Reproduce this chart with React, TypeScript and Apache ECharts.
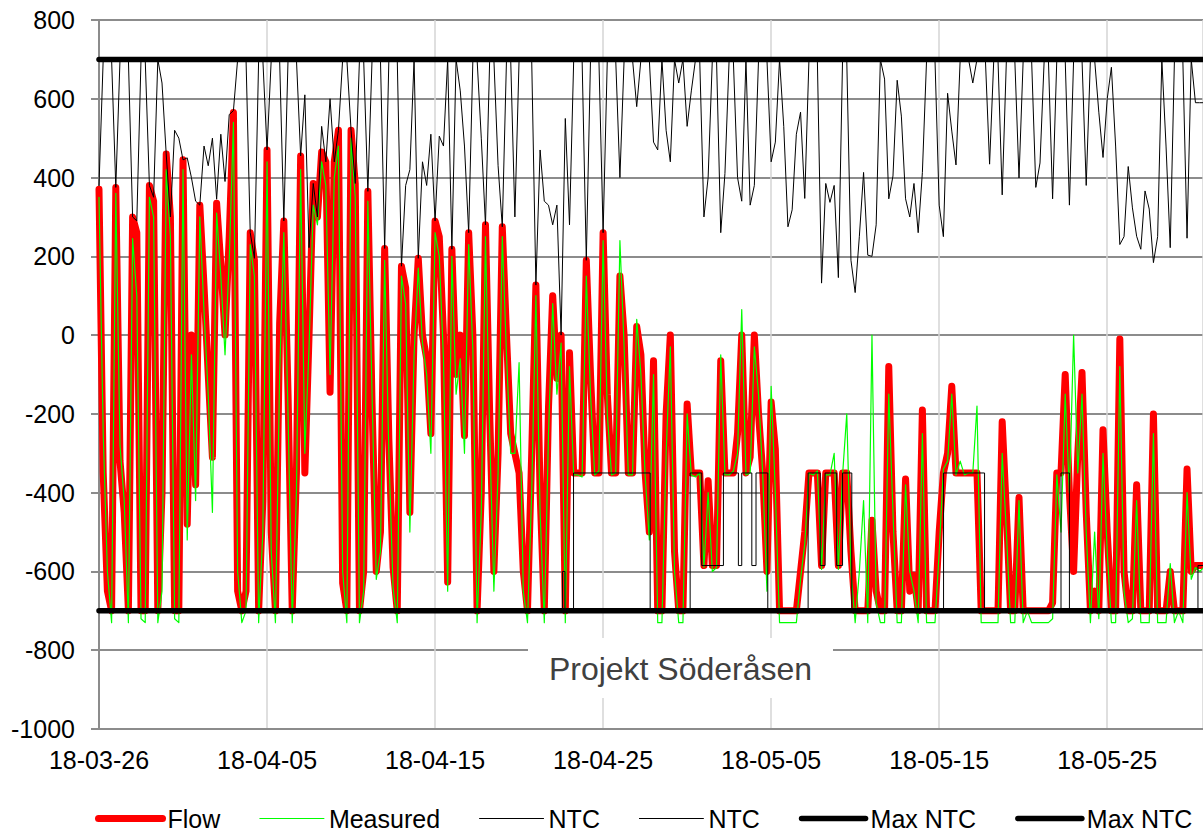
import React, { useEffect, useRef } from 'react';
import * as echarts from 'echarts';

// x values are day offsets from 2018-03-26 00:00, sampled every 6 hours
const SAMPLES_PER_DAY = 4;
const tickLabels = ['18-03-26', '18-04-05', '18-04-15', '18-04-25', '18-05-05', '18-05-15', '18-05-25'];
const seriesNames = ['Flow', 'Measured', 'NTC', 'NTC_2', 'Max NTC', 'Max NTC_2'];

const flow = [
  370, -350, -650, -700, 375, -320, -450, -700, 300, 260, -700, -700, 380, 340, -700, -400,
  460, 300, -700, -700, 445, -480, 0, -380, 330, 125, -100, -310, 335, 180, 0, 250,
  565, -650, -700, -650, 260, 190, -700, -420, 470, -500, -700, 30, 290, -150, -700, -350,
  455, -350, 0, 385, 300, 465, 440, -145, 440, 520, -630, -700, 520, 385, -700, -600,
  365, -175, -600, -500, 220, -265, -590, -700, 175, 120, -450, 0, 195, 0, -60, -250,
  290, 250, 0, -627, 218, -100, 0, -255, 260, 0, -700, -400, 280, -200, -600, -300,
  275, 0, -250, -300, -350, -600, -700, -300, 127, -400, -700, -183, 100, -110, 0, -700,
  -45, -350, -350, -350, 190, -100, -350, -350, 260, -150, -350, -350, 150, 0, -350, -350,
  22, -50, -350, -500, -65, -700, -700, -200, 0, -550, -700, -700, -175, -350, -350, -350,
  -585, -370, -585, -585, -65, -350, -350, -350, -250, 0, -350, -310, 0, -200, -350, -600,
  -170, -290, -700, -700, -700, -700, -700, -600, -500, -350, -350, -350, -585, -350, -350, -350,
  -585, -350, -350, -550, -700, -700, -700, -700, -470, -650, -700, -700, -80, -500, -700, -700,
  -365, -650, -610, -700, -190, -700, -700, -700, -500, -350, -300, -130, -350, -350, -350, -350,
  -350, -350, -700, -700, -700, -700, -700, -220, -450, -700, -700, -412, -700, -700, -700, -700,
  -700, -700, -700, -680, -350, -350, -100, -400, -600, -300, -95, -450, -700, -650, -700, -240,
  -500, -700, -700, -10, -600, -700, -700, -380, -700, -700, -700, -200, -700, -700, -700, -600,
  -700, -700, -700, -340, -600, -585, -585, -585,
];

const measured = [
  350, -250, -600, -730, 360, -280, -420, -730, 245, 100, -720, -730, 350, 300, -730, -650,
  420, 250, -720, -730, 420, -520, -50, -420, 300, 60, -150, -450, 310, 150, -50, 190,
  540, -600, -730, -700, 230, 150, -730, -500, 440, -550, -730, -100, 260, -200, -730, -400,
  420, -300, -30, 330, 280, 440, 380, -100, 400, 480, -600, -730, 500, 350, -730, -650,
  340, -150, -620, -550, 190, -300, -640, -730, 150, 80, -500, -50, 170, -20, -100, -300,
  260, 200, -60, -650, 200, -150, -60, -300, 230, -40, -730, -450, 250, -250, -650, -350,
  250, -50, -300, -300, -70, -650, -730, -400, 100, -450, -730, -250, 80, -150, -20, -730,
  -80, -355, -355, -360, 150, -150, -355, -345, 240, -200, -355, -350, 240, -30, -355, -355,
  40, -100, -355, -520, -100, -730, -730, -300, -30, -600, -730, -730, -200, -355, -360, -350,
  -590, -400, -600, -590, -50, -355, -355, -345, -300, 65, -355, -350, -30, -150, -355, -650,
  -130, -400, -730, -730, -730, -730, -730, -620, -530, -350, -355, -345, -595, -355, -355, -300,
  -595, -355, -200, -600, -730, -600, -420, -730, 0, -680, -730, -730, -150, -450, -730, -730,
  -380, -600, -650, -730, -250, -730, -730, -730, -550, -340, -320, -150, -355, -320, -355, -350,
  -350, -180, -730, -730, -730, -730, -730, -300, -500, -730, -730, -420, -730, -700, -730, -730,
  -730, -730, -730, -720, -355, -500, -150, -400, 0, -350, -150, -500, -730, -500, -720, -300,
  -550, -730, -730, -80, -650, -730, -720, -420, -730, -730, -730, -250, -730, -730, -730, -580,
  -730, -700, -730, -400, -620, -590, -600, -590,
];

const ntcUpper = [
  380, 700, 700, 700, 375, 700, 700, 700, 300, 290, 700, 700, 380, 350, 700, 640,
  460, 300, 520, 500, 445, 450, 400, 340, 330, 480, 430, 500, 345, 510, 390, 560,
  570, 700, 700, 700, 260, 195, 700, 700, 470, 700, 700, 700, 290, 700, 700, 700,
  455, 610, 222, 385, 300, 530, 440, 600, 440, 520, 700, 700, 520, 385, 700, 700,
  365, 700, 700, 700, 220, 700, 700, 700, 175, 380, 420, 700, 195, 440, 380, 510,
  290, 505, 480, 700, 218, 700, 620, 480, 260, 700, 700, 500, 280, 700, 700, 430,
  275, 700, 700, 300, 700, 700, 700, 700, 127, 470, 340, 330, 280, 330, 0, 550,
  280, 700, 700, 700, 190, 700, 700, 700, 260, 700, 700, 700, 400, 700, 700, 700,
  580, 700, 700, 700, 490, 470, 700, 520, 440, 700, 640, 700, 530, 620, 700, 700,
  300, 400, 700, 700, 260, 410, 700, 700, 400, 340, 700, 330, 380, 700, 700, 700,
  440, 490, 700, 530, 275, 318, 510, 566, 347, 700, 700, 700, 132, 385, 337, 380,
  146, 700, 700, 190, 108, 251, 413, 203, 200, 280, 700, 650, 346, 404, 647, 556,
  346, 300, 385, 260, 413, 700, 700, 700, 330, 250, 614, 518, 432, 700, 700, 700,
  640, 700, 700, 700, 434, 700, 700, 356, 700, 700, 700, 399, 700, 700, 700, 375,
  437, 700, 700, 346, 700, 700, 700, 330, 700, 700, 700, 380, 700, 700, 566, 451,
  600, 680, 480, 230, 250, 428, 323, 251, 218, 366, 320, 184, 250, 700, 480, 222,
  700, 700, 700, 246, 700, 590, 590, 590,
];

// lower NTC is a step line: value holds from each change day until the next
const ntcLowerDays = [0, 27.58, 27.73, 28.24, 32.8, 35.18, 35.87, 37.16, 38.05, 38.25, 38.85, 39.1, 39.8,
  42.2, 42.92, 43.21, 43.9, 44.25, 44.8, 50.26, 52.7, 57.25, 57.75, 65.4, 66];
const ntcLowerVals = [-700, -600, -700, -350, -700, -350, -585, -350, -585, -350, -585, -350, -700,
  -350, -585, -350, -585, -350, -700, -350, -700, -350, -700, -585, -585];

const maxNtcDays = [0, 66];
const maxNtcPos = [700, 700];
const maxNtcNeg = [-700, -700];

const FONT = '"Liberation Sans", Arial, Helvetica, sans-serif';

const sampled = (vals: number[]) => vals.map((v, i) => [i / SAMPLES_PER_DAY, v]);
const paired = (days: number[], vals: number[]) => days.map((d, i) => [d, vals[i]]);

export default function App() {
  const ref = useRef<HTMLDivElement>(null);

  useEffect(() => {
    if (!ref.current) return;
    const chart = echarts.init(ref.current, undefined, { renderer: 'svg' });
    const line = (name: string, data: number[][], color: string, width: number, extra: any = {}) => ({
      name,
      type: 'line',
      data,
      symbol: 'none',
      showSymbol: false,
      lineStyle: { color, width, cap: 'round', join: 'round' },
      itemStyle: { color },
      emphasis: { disabled: true },
      ...extra,
    });
    chart.setOption({
      animation: false,
      backgroundColor: '#ffffff',
      grid: { left: 99, right: 0, top: 20, bottom: 102, containLabel: false },
      xAxis: {
        type: 'value',
        min: 0,
        max: 65.7,
        interval: 10,
        axisLine: { show: true, onZero: false, lineStyle: { color: '#8c8c8c', width: 2 } },
        axisTick: { show: false },
        axisLabel: {
          color: '#000',
          fontSize: 25,
          fontFamily: FONT,
          margin: 18,
          showMaxLabel: false,
          formatter: (v: number) => {
            const i = Math.round(v / 10);
            return Math.abs(v - i * 10) < 1e-6 && tickLabels[i] ? tickLabels[i] : '';
          },
        },
        splitLine: { show: true, lineStyle: { color: '#d4d4d4', width: 1.5 } },
      },
      yAxis: {
        type: 'value',
        min: -1000,
        max: 800,
        interval: 200,
        axisLine: { show: true, lineStyle: { color: '#8c8c8c', width: 2 } },
        axisTick: { show: true, inside: false, length: 8, lineStyle: { color: '#8c8c8c', width: 2 } },
        axisLabel: {
          color: '#000',
          fontSize: 25,
          fontFamily: FONT,
          margin: 24,
          formatter: (v: number) => String(v),
        },
        splitLine: { show: true, lineStyle: { color: '#8c8c8c', width: 2 } },
      },
      legend: {
        left: 95,
        top: 806,
        width: 1150,
        padding: 0,
        itemGap: 39,
        itemWidth: 64,
        itemHeight: 24,
        selectedMode: false,
        textStyle: { color: '#000', fontSize: 25, fontFamily: FONT },
        itemStyle: { color: 'rgba(0,0,0,0)', borderColor: 'rgba(0,0,0,0)', borderWidth: 0 },
        lineStyle: { width: 'inherit' },
        formatter: (n: string) => n.replace(/_2$/, ''),
        data: seriesNames,
      },
      graphic: [
        {
          type: 'rect',
          z: 50,
          shape: { x: 528, y: 638, width: 305, height: 60 },
          style: { fill: '#ffffff' },
        },
        {
          type: 'text',
          z: 51,
          x: 680.5,
          y: 669,
          style: {
            text: 'Projekt Söderåsen',
            fontSize: 32,
            fontFamily: FONT,
            fill: '#404040',
            align: 'center',
            verticalAlign: 'middle',
          },
        },
      ],
      series: [
        line(seriesNames[0], sampled(flow), '#ff0000', 7),
        line(seriesNames[1], sampled(measured), '#00ff00', 1.2),
        line(seriesNames[2], sampled(ntcUpper), '#000000', 1),
        line(seriesNames[3], paired(ntcLowerDays, ntcLowerVals), '#000000', 1, { step: 'end' }),
        line(seriesNames[4], paired(maxNtcDays, maxNtcPos), '#000000', 5.5),
        line(seriesNames[5], paired(maxNtcDays, maxNtcNeg), '#000000', 5.5),
      ],
    });
    return () => chart.dispose();
  }, []);

  return (
    <div
      ref={ref}
      style={{ position: 'fixed', left: 0, top: 0, width: 1203, height: 831, background: '#fff' }}
    />
  );
}
